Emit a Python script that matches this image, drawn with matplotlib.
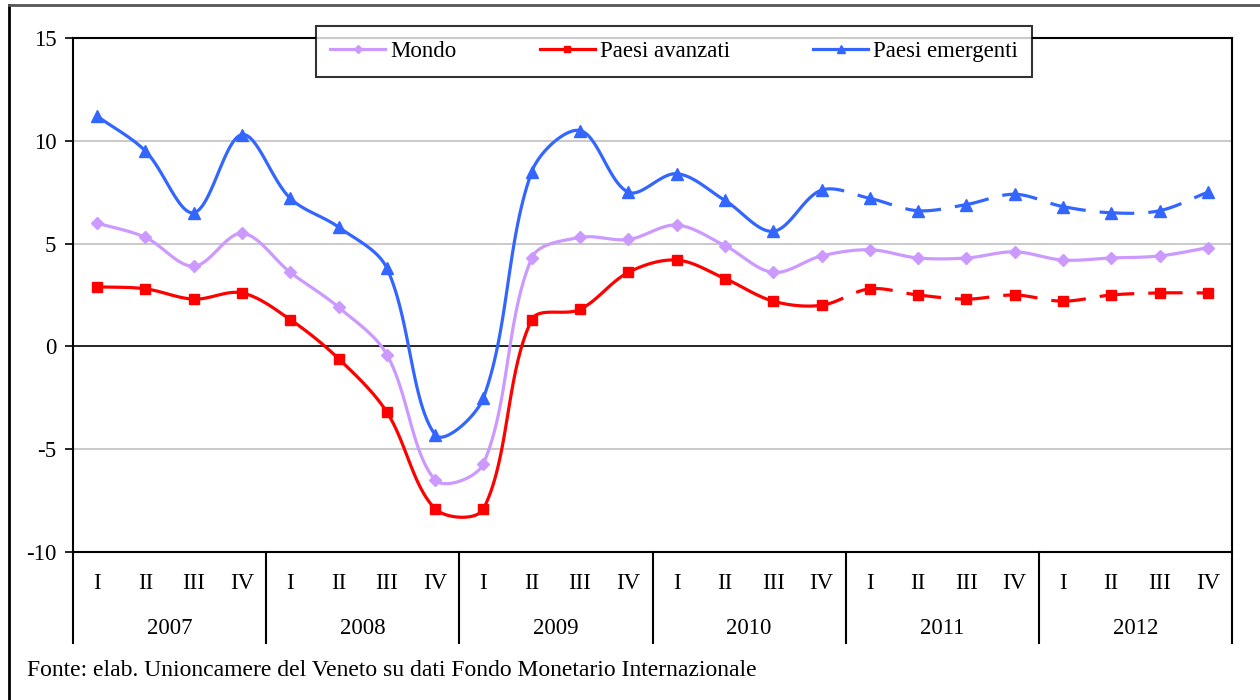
import numpy as np
import matplotlib.pyplot as plt
from matplotlib.lines import Line2D

plt.rcParams['font.family'] = ['Liberation Serif', 'DejaVu Serif']
plt.rcParams['axes.unicode_minus'] = False

# Data: quarterly growth (%) 2007-2012
years = ['2007', '2008', '2009', '2010', '2011', '2012']
quarters = ['I', 'II', 'III', 'IV']
mondo = [6.0, 5.3, 3.9, 5.5, 3.6, 1.9, -0.4, -6.5, -5.7, 4.3, 5.3, 5.2,
         5.9, 4.9, 3.6, 4.4, 4.7, 4.3, 4.3, 4.6, 4.2, 4.3, 4.4, 4.8]
avanzati = [2.9, 2.8, 2.3, 2.6, 1.3, -0.6, -3.2, -7.9, -7.9, 1.3, 1.8, 3.6,
            4.2, 3.3, 2.2, 2.0, 2.8, 2.5, 2.3, 2.5, 2.2, 2.5, 2.6, 2.6]
emergenti = [11.2, 9.5, 6.5, 10.3, 7.2, 5.8, 3.8, -4.3, -2.5, 8.5, 10.5, 7.5,
             8.4, 7.1, 5.6, 7.6, 7.2, 6.6, 6.9, 7.4, 6.8, 6.5, 6.6, 7.5]
forecast_start = 15  # 2010 IV: dashed afterwards

# screen scale (px per unit) used for the smoothing, like Excel does it
XPX, YPX = 48.3, 20.56


def smooth(y, n=30):
    # Excel-like smoothed line: Bezier segments, tangents scaled by segment lengths
    y = np.asarray(y, float)
    P = np.column_stack([np.arange(len(y)) * XPX, y * YPX])
    last = len(P) - 1
    xs, ys = [], []
    for i in range(last):
        im, ip = max(i - 1, 0), min(i + 2, last)
        d01 = np.hypot(*(P[i] - P[im]))
        d12 = np.hypot(*(P[i + 1] - P[i]))
        d23 = np.hypot(*(P[ip] - P[i + 1]))
        p0, p3 = P[i], P[i + 1]
        p1 = p0 + (P[i + 1] - P[im]) * d12 / (d01 + d12) / 3
        p2 = p3 - (P[ip] - P[i]) * d12 / (d12 + d23) / 3
        t = np.linspace(0, 1, n)[:, None]
        pts = ((1 - t) ** 3 * p0 + 3 * (1 - t) ** 2 * t * p1
               + 3 * (1 - t) * t ** 2 * p2 + t ** 3 * p3)
        xs.append(pts[:, 0] / XPX)
        ys.append(pts[:, 1] / YPX)
    return xs, ys


fig = plt.figure(figsize=(12.6, 7), dpi=100)
ax = fig.add_axes([73 / 1260, 148 / 700, (1232 - 73) / 1260, 514 / 700])

series = [
    ('Mondo', mondo, '#cc99ff', 'D', 6, False),
    ('Paesi avanzati', avanzati, '#ff0000', 's', 7, True),
    ('Paesi emergenti', emergenti, '#3366ff', '^', 8, True),
]

LW = 2.3
handles = []
for name, vals, col, mk, ms, dashed in series:
    segx, segy = smooth(vals)
    for i, (sx, sy) in enumerate(zip(segx, segy)):
        ls = (3.8, (11, 4.4)) if (dashed and i >= forecast_start) else '-'
        ax.plot(sx, sy, color=col, lw=LW, ls=ls, zorder=3)
    ax.plot(np.arange(len(vals)), vals, ls='none', marker=mk, ms=ms,
            color=col, zorder=4)
    handles.append(Line2D([], [], color=col, lw=LW, marker=mk, ms=ms, label=name))

ax.set_xlim(-0.5, 23.5)
ax.set_ylim(-10, 15)
ax.set_yticks([-10, -5, 0, 5, 10, 15])
ax.set_yticklabels(['-10', '-5', '0', '5', '10', '15'], fontsize=16.5)
ax.tick_params(axis='y', direction='out', length=6, width=1.2, pad=6)
ax.set_xticks([])
for y in [-5, 5, 10]:
    ax.axhline(y, color='#c0c0c0', lw=1.2, zorder=1)
ax.axhline(0, color='black', lw=1.2, zorder=2)
for s in ax.spines.values():
    s.set_linewidth(1.5)

# two-level category axis
trans = ax.get_xaxis_transform()
for k, yr in enumerate(years):
    for j, q in enumerate(quarters):
        ax.text(4 * k + j, -0.062, q, transform=trans, ha='center', va='center',
                fontsize=16.5)
    ax.text(4 * k + 1.5, -0.148, yr, transform=trans, ha='center',
            va='center', fontsize=16.5)
for b in range(0, 25, 4):
    ax.plot([b - 0.5, b - 0.5], [0, -0.177], transform=trans, color='black',
            lw=1.5, clip_on=False)

leg = ax.legend(handles=handles, loc='center', bbox_to_anchor=((674 - 73) / 1159, 0.973),
                ncol=3, fontsize=16.5, frameon=True, fancybox=False,
                edgecolor='black', handlelength=2.4, handletextpad=0.2,
                columnspacing=3.65, borderpad=0.65, borderaxespad=0, markerscale=0.7)
leg.get_frame().set_linewidth(1.5)
leg.set_zorder(10)

fig.text(27 / 1260, 1 - 670 / 700, 'Fonte: elab. Unioncamere del Veneto su dati Fondo Monetario Internazionale',
         fontsize=17, va='center', ha='left')

# outer frame lines
fig.add_artist(Line2D([9 / 1260, 9 / 1260], [0, 1 - 5 / 700], color='black', lw=2))
fig.add_artist(Line2D([9 / 1260, 1], [1 - 5 / 700, 1 - 5 / 700], color='#555555', lw=2))

fig.savefig('out.png', dpi=100)
